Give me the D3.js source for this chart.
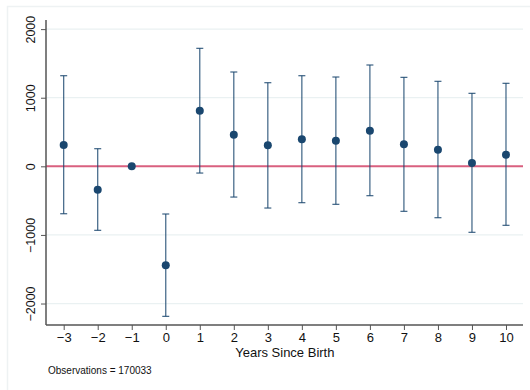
<!DOCTYPE html>
<html>
<head>
<meta charset="utf-8">
<script src="https://cdn.jsdelivr.net/npm/d3@7"></script>
<style>
  body { margin: 0; background: #fff; }
  svg { font-family: "Liberation Sans", Arial, Helvetica, sans-serif; }
  .grid line { stroke: #eaf1f2; stroke-width: 1.2; }
</style>
</head>
<body>
<div id="chart"></div>
<script>
// event-study estimates, years relative to birth
var years = [-3, -2, -1, 0, 1, 2, 3, 4, 5, 6, 7, 8, 9, 10];
var coef  = [310, -341, 0, -1443, 810, 461, 306, 393, 374, 519, 320, 242, 48, 169];
var upper = [1321, 257, 0, -695, 1720, 1375, 1219, 1321, 1302, 1477, 1297, 1239, 1064, 1210];
var lower = [-691, -933, 0, -2187, -98, -448, -608, -530, -554, -428, -656, -749, -962, -860];
var yTicks = [-2000, -1000, 0, 1000, 2000];
var gridVals = [-2000, -1000, 1000, 2000];
var nObs = 170033;

var w = 530, h = 390;
var margin = { top: 20, right: 7, bottom: 65, left: 46 };
var width = w - margin.left - margin.right;
var height = h - margin.top - margin.bottom;
var navy = "#1a476f";

var svg = d3.select("#chart").append("svg")
  .attr("width", w)
  .attr("height", h);

// light outer frame (top + left edge)
svg.append("path")
  .attr("d", "M7.5," + h + "V6.5H" + w)
  .attr("fill", "none")
  .attr("stroke", "#eef2f3")
  .attr("stroke-width", 1.5);

var g = svg.append("g")
  .attr("transform", "translate(" + margin.left + "," + margin.top + ")");

var x = d3.scaleLinear()
  .domain([-3.52, 10.5])
  .range([0, width]);

var y = d3.scaleLinear()
  .domain([-2313, 2133])
  .range([height, 0]);

var minusFmt = function(d) { return d < 0 ? "\u2212" + Math.abs(d) : d; };

// gridlines
g.append("g")
  .attr("class", "grid")
  .selectAll("line")
  .data(gridVals)
  .enter()
  .append("line")
  .attr("x1", 0)
  .attr("x2", width)
  .attr("y1", function(d) { return y(d); })
  .attr("y2", function(d) { return y(d); });

// zero reference line
g.append("line")
  .attr("x1", 0)
  .attr("x2", width)
  .attr("y1", y(0))
  .attr("y2", y(0))
  .attr("stroke", "#d9607f")
  .attr("stroke-width", 2);

// axes
var yAxis = d3.axisLeft(y)
  .tickValues(yTicks)
  .tickSize(5)
  .tickFormat(minusFmt);

var xAxis = d3.axisBottom(x)
  .tickValues(years)
  .tickSize(5)
  .tickPadding(3)
  .tickFormat(minusFmt);

var ya = g.append("g").call(yAxis);
ya.select(".domain").attr("d", "M0,0V" + height).attr("stroke", "#555").attr("stroke-width", 1.5);
ya.selectAll(".tick line").attr("stroke", "#555");
ya.selectAll(".tick text")
  .attr("font-size", 12.5)
  .attr("fill", "#111")
  .attr("text-anchor", "middle")
  .attr("x", null)
  .attr("dy", 0)
  .attr("transform", "translate(-11,0) rotate(-90)");

var xa = g.append("g")
  .attr("transform", "translate(0," + height + ")")
  .call(xAxis);
xa.select(".domain").attr("d", "M0,0H" + width).attr("stroke", "#555").attr("stroke-width", 1.5);
xa.selectAll(".tick line").attr("stroke", "#555");
xa.selectAll(".tick text").attr("font-size", 13).attr("fill", "#111");

g.append("text")
  .attr("x", x(3.5))
  .attr("y", height + 32)
  .attr("text-anchor", "middle")
  .attr("font-size", 13)
  .attr("fill", "#111")
  .text("Years Since Birth");

svg.append("text")
  .attr("x", 48)
  .attr("y", 374)
  .attr("font-size", 10)
  .attr("fill", "#111")
  .text("Observations = " + nObs);

// error bars (the base year has none)
var rows = years.map(function(t, i) {
  return { t: t, b: coef[i], hi: upper[i], lo: lower[i] };
});

var bars = g.selectAll(".bar")
  .data(rows.filter(function(d) { return d.hi !== d.lo; }))
  .enter()
  .append("g")
  .attr("class", "bar")
  .attr("stroke", navy)
  .attr("stroke-width", 1.2)
  .attr("stroke-opacity", 0.85);

bars.append("line")
  .attr("x1", function(d) { return x(d.t); })
  .attr("x2", function(d) { return x(d.t); })
  .attr("y1", function(d) { return y(d.hi); })
  .attr("y2", function(d) { return y(d.lo); });

bars.append("line")
  .attr("x1", function(d) { return x(d.t) - 3.5; })
  .attr("x2", function(d) { return x(d.t) + 3.5; })
  .attr("y1", function(d) { return y(d.hi); })
  .attr("y2", function(d) { return y(d.hi); });

bars.append("line")
  .attr("x1", function(d) { return x(d.t) - 3.5; })
  .attr("x2", function(d) { return x(d.t) + 3.5; })
  .attr("y1", function(d) { return y(d.lo); })
  .attr("y2", function(d) { return y(d.lo); });

// point estimates
g.selectAll("circle")
  .data(rows)
  .enter()
  .append("circle")
  .attr("cx", function(d) { return x(d.t); })
  .attr("cy", function(d) { return y(d.b); })
  .attr("r", 4)
  .style("fill", navy);
</script>
</body>
</html>
